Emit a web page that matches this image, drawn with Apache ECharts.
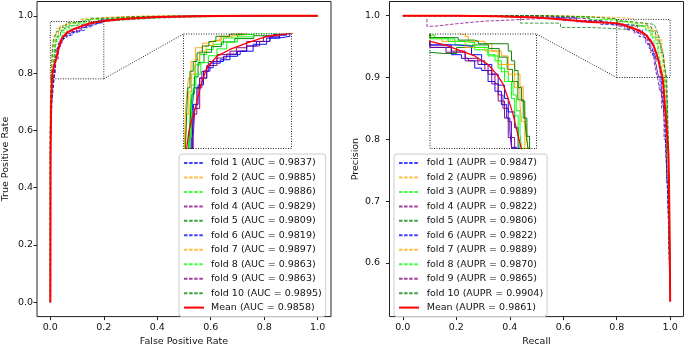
<!DOCTYPE html>
<html>
<head>
<meta charset="utf-8">
<script src="https://cdn.jsdelivr.net/npm/echarts@6/dist/echarts.min.js"></script>
<style>
  html, body { margin: 0; padding: 0; background: #fff; }
  #chart { width: 685px; height: 352px; }
</style>
</head>
<body>
<div id="chart"></div>
<script>
const FONT = 'DejaVu Sans';

const foldNames = ['fold 1', 'fold 2', 'fold 3', 'fold 4', 'fold 5', 'fold 6', 'fold 7', 'fold 8', 'fold 9', 'fold 10'];
const aucValues = ['0.9837', '0.9885', '0.9886', '0.9829', '0.9809', '0.9819', '0.9897', '0.9863', '0.9863', '0.9895'];
const meanAuc = '0.9858';
const auprValues = ['0.9847', '0.9896', '0.9889', '0.9822', '0.9806', '0.9822', '0.9889', '0.9870', '0.9865', '0.9904'];
const meanAupr = '0.9861';
const foldColors = ['#0000ff', '#ffa500', '#00ff00', '#800080', '#008000', '#0000ff', '#ffa500', '#00ff00', '#800080', '#008000'];

const rateTicks = [0, 0.2, 0.4, 0.6, 0.8, 1.0];
const precisionTicks = [0.6, 0.7, 0.8, 0.9, 1.0];

// zoomed regions shown in the insets
const rocZoomX = [0, 0.2];
const rocZoomY = [0.78, 0.98];
const prZoomX = [0.8, 1.0];
const prZoomY = [0.9, 0.994];

// ROC curves [fpr, tpr]
const roc1 = [[0,0],[0,0.3],[0.005,0.6],[0.01,0.72],[0.014,0.78],[0.016,0.8],[0.019,0.845],[0.03,0.886],[0.043,0.903],[0.055,0.921],[0.074,0.932],[0.1,0.941],[0.117,0.95],[0.135,0.959],[0.16,0.967],[0.178,0.973],[0.197,0.976],[0.24,0.985],[0.3,0.991],[0.4,0.997],[0.55,1],[1,1]];
const roc2 = [[0,0],[0,0.5],[0.002,0.7],[0.004,0.8],[0.006,0.85],[0.009,0.874],[0.014,0.903],[0.022,0.932],[0.035,0.956],[0.045,0.964],[0.055,0.967],[0.068,0.97],[0.085,0.976],[0.115,0.979],[0.16,0.988],[0.2,0.993],[0.3,0.998],[0.5,1],[1,1]];
const roc3 = [[0,0],[0,0.35],[0.004,0.65],[0.008,0.75],[0.012,0.78],[0.015,0.845],[0.021,0.891],[0.03,0.926],[0.043,0.944],[0.055,0.953],[0.074,0.962],[0.1,0.973],[0.13,0.979],[0.18,0.987],[0.25,0.993],[0.35,0.997],[0.5,0.999],[0.7,1],[1,1]];
const roc4 = [[0,0],[0,0.3],[0.006,0.6],[0.012,0.72],[0.016,0.77],[0.0185,0.799],[0.0246,0.84],[0.034,0.886],[0.046,0.915],[0.062,0.932],[0.086,0.944],[0.117,0.95],[0.141,0.959],[0.16,0.967],[0.178,0.976],[0.22,0.984],[0.3,0.99],[0.4,0.996],[0.55,0.999],[0.8,1],[1,1]];
const roc5 = [[0,0],[0,0.3],[0.005,0.55],[0.01,0.7],[0.013,0.79],[0.016,0.84],[0.02,0.875],[0.027,0.905],[0.038,0.93],[0.052,0.948],[0.07,0.958],[0.095,0.966],[0.13,0.972],[0.17,0.977],[0.22,0.982],[0.3,0.987],[0.4,0.992],[0.55,0.996],[0.75,0.999],[1,1]];
const roc6 = [[0,0],[0,0.25],[0.006,0.55],[0.012,0.7],[0.016,0.76],[0.0185,0.793],[0.027,0.857],[0.037,0.891],[0.049,0.915],[0.068,0.929],[0.086,0.935],[0.105,0.944],[0.129,0.95],[0.154,0.962],[0.178,0.973],[0.191,0.978],[0.23,0.985],[0.3,0.99],[0.4,0.995],[0.55,0.999],[0.8,1],[1,1]];
const roc7 = [[0,0],[0,0.4],[0.003,0.66],[0.006,0.79],[0.01,0.84],[0.015,0.88],[0.022,0.91],[0.03,0.935],[0.042,0.95],[0.055,0.96],[0.07,0.968],[0.09,0.975],[0.12,0.981],[0.16,0.99],[0.22,0.995],[0.35,0.999],[0.6,1],[1,1]];
const roc8 = [[0,0],[0,0.3],[0.005,0.62],[0.01,0.74],[0.015,0.8],[0.018,0.85],[0.023,0.885],[0.032,0.91],[0.046,0.93],[0.062,0.942],[0.08,0.954],[0.1,0.966],[0.13,0.975],[0.17,0.981],[0.23,0.989],[0.32,0.995],[0.45,0.998],[0.65,1],[1,1]];
const roc9 = [[0,0],[0,0.35],[0.006,0.62],[0.012,0.74],[0.018,0.78],[0.021,0.8],[0.03,0.85],[0.043,0.903],[0.062,0.925],[0.08,0.938],[0.098,0.945],[0.117,0.956],[0.148,0.967],[0.166,0.975],[0.19,0.979],[0.24,0.988],[0.32,0.994],[0.45,0.998],[0.6,1],[1,1]];
const roc10 = [[0,0],[0,0.45],[0.002,0.68],[0.004,0.76],[0.006,0.79],[0.008,0.845],[0.012,0.886],[0.018,0.915],[0.025,0.932],[0.035,0.947],[0.047,0.959],[0.06,0.967],[0.085,0.976],[0.11,0.98],[0.15,0.985],[0.22,0.992],[0.3,0.997],[0.45,0.999],[0.75,1],[1,1]];
const rocMean = [[0,0],[0.001,0.5],[0.003,0.7],[0.006,0.78],[0.01,0.81],[0.015,0.83],[0.0216,0.85],[0.031,0.886],[0.043,0.921],[0.0616,0.941],[0.086,0.953],[0.117,0.964],[0.154,0.976],[0.19,0.98],[0.25,0.987],[0.3,0.991],[0.4,0.996],[0.5,0.998],[0.6,0.999],[0.8,1],[1,1]];

// PR curves [recall, precision]
const pr1 = [[0,1],[0.2,1],[0.45,0.997],[0.6,0.992],[0.74,0.986],[0.8,0.983],[0.828,0.983],[0.84,0.977],[0.859,0.974],[0.872,0.972],[0.884,0.966],[0.897,0.964],[0.909,0.955],[0.922,0.947],[0.934,0.936],[0.944,0.925],[0.95,0.914],[0.953,0.901],[0.962,0.885],[0.969,0.87],[0.975,0.85],[0.982,0.8],[0.988,0.74],[0.995,0.65],[1,0.55]];
const pr2 = [[0,1],[0.4,1],[0.6,0.998],[0.75,0.996],[0.856,0.994],[0.866,0.992],[0.872,0.988],[0.903,0.986],[0.916,0.98],[0.934,0.976],[0.947,0.969],[0.959,0.961],[0.969,0.951],[0.975,0.939],[0.978,0.928],[0.981,0.917],[0.984,0.9],[0.988,0.86],[0.992,0.8],[0.996,0.7],[1,0.56]];
const pr3 = [[0,1],[0.3,1],[0.5,0.998],[0.7,0.994],[0.8,0.99],[0.84,0.99],[0.847,0.985],[0.872,0.984],[0.884,0.981],[0.909,0.977],[0.922,0.972],[0.934,0.963],[0.947,0.955],[0.956,0.944],[0.962,0.931],[0.969,0.912],[0.972,0.9],[0.98,0.86],[0.988,0.78],[0.995,0.67],[1,0.55]];
const pr4 = [[0.09,0.995],[0.09,0.983],[0.12,0.985],[0.16,0.987],[0.2,0.989],[0.25,0.991],[0.3,0.993],[0.4,0.995],[0.5,0.997],[0.6,0.995],[0.7,0.99],[0.78,0.985],[0.84,0.98],[0.866,0.974],[0.89,0.969],[0.909,0.961],[0.922,0.953],[0.928,0.944],[0.937,0.933],[0.947,0.922],[0.953,0.909],[0.959,0.9],[0.967,0.875],[0.975,0.84],[0.983,0.79],[0.99,0.72],[0.996,0.64],[1,0.55]];
const pr5 = [[0,1],[0.29,1],[0.3,0.997],[0.43,0.997],[0.44,0.988],[0.58,0.987],[0.59,0.981],[0.7,0.979],[0.8,0.978],[0.825,0.978],[0.85,0.983],[0.88,0.985],[0.91,0.982],[0.93,0.975],[0.945,0.965],[0.955,0.955],[0.965,0.94],[0.975,0.925],[0.982,0.91],[0.987,0.9],[0.99,0.86],[0.993,0.8],[0.996,0.7],[1,0.57]];
const pr6 = [[0,1],[0.25,1],[0.5,0.996],[0.65,0.99],[0.75,0.987],[0.8,0.985],[0.853,0.984],[0.878,0.977],[0.897,0.969],[0.916,0.961],[0.928,0.952],[0.94,0.941],[0.947,0.93],[0.959,0.917],[0.9655,0.9],[0.97,0.88],[0.976,0.85],[0.984,0.79],[0.99,0.73],[0.996,0.64],[1,0.55]];
const pr7 = [[0,1],[0.35,1],[0.55,0.998],[0.7,0.995],[0.8,0.991],[0.822,0.988],[0.866,0.983],[0.903,0.98],[0.928,0.969],[0.947,0.961],[0.959,0.95],[0.969,0.936],[0.972,0.922],[0.978,0.9],[0.984,0.86],[0.99,0.78],[0.995,0.68],[1,0.55]];
const pr8 = [[0,1],[0.25,1],[0.5,0.997],[0.7,0.993],[0.809,0.991],[0.834,0.988],[0.859,0.987],[0.884,0.983],[0.909,0.976],[0.928,0.966],[0.94,0.955],[0.953,0.941],[0.959,0.927],[0.9655,0.908],[0.968,0.9],[0.978,0.85],[0.986,0.77],[0.994,0.66],[1,0.55]];
const pr9 = [[0,1],[0.3,1],[0.5,0.997],[0.65,0.992],[0.75,0.987],[0.8,0.983],[0.83,0.979],[0.866,0.972],[0.903,0.964],[0.916,0.953],[0.928,0.939],[0.94,0.925],[0.947,0.909],[0.953,0.9],[0.96,0.88],[0.968,0.85],[0.977,0.8],[0.986,0.73],[0.994,0.64],[1,0.55]];
const pr10 = [[0,1],[0.3,1],[0.55,0.998],[0.7,0.995],[0.8,0.991],[0.847,0.991],[0.853,0.989],[0.884,0.988],[0.891,0.986],[0.94,0.986],[0.947,0.98],[0.953,0.972],[0.959,0.964],[0.9655,0.95],[0.972,0.939],[0.978,0.925],[0.981,0.909],[0.984,0.9],[0.988,0.86],[0.992,0.8],[0.996,0.72],[1,0.57]];
const prMean = [[0,1],[0.2,1],[0.35,0.999],[0.5,0.997],[0.6,0.994],[0.7,0.99],[0.8,0.988],[0.828,0.985],[0.853,0.981],[0.884,0.976],[0.909,0.969],[0.925,0.961],[0.937,0.953],[0.946,0.942],[0.956,0.928],[0.962,0.917],[0.968,0.906],[0.972,0.899],[0.975,0.885],[0.981,0.851],[0.9877,0.814],[0.9937,0.777],[0.996,0.725],[0.9975,0.672],[0.999,0.619],[1,0.537]];

const rocFolds = [roc1, roc2, roc3, roc4, roc5, roc6, roc7, roc8, roc9, roc10];
const prFolds = [pr1, pr2, pr3, pr4, pr5, pr6, pr7, pr8, pr9, pr10];

const rocNames = foldNames.map((f, i) => `${f} (AUC = ${aucValues[i]})`).concat(`Mean (AUC = ${meanAuc})`);
const prNames = foldNames.map((f, i) => `${f} (AUPR = ${auprValues[i]})`).concat(`Mean (AUPR = ${meanAupr})`);

const txt = { fontFamily: FONT, fontSize: 9.5, color: '#111' };

function axisX(gridIndex, name) {
  return {
    type: 'value', gridIndex, min: -0.05, max: 1.05,
    name, nameLocation: 'middle', nameGap: 18.5, nameTextStyle: txt,
    axisLine: { show: false, onZero: false }, splitLine: { show: false },
    axisTick: { show: true, length: 3.5, lineStyle: { color: '#222', width: 1 }, customValues: rateTicks },
    axisLabel: Object.assign({ margin: 5.5, customValues: rateTicks, formatter: v => v.toFixed(1) }, txt)
  };
}
function axisY(gridIndex, name, min, max, ticks, margin) {
  return {
    type: 'value', gridIndex, min, max,
    name, nameLocation: 'middle', nameGap: 26, nameTextStyle: txt,
    axisLine: { show: false, onZero: false }, splitLine: { show: false },
    axisTick: { show: true, length: 3.5, lineStyle: { color: '#222', width: 1 }, customValues: ticks },
    axisLabel: Object.assign({ margin, customValues: ticks, formatter: v => v.toFixed(1) }, txt)
  };
}
function hiddenAxis(gridIndex, range) {
  return { type: 'value', gridIndex, min: range[0], max: range[1], show: false, axisLine: { onZero: false } };
}

function foldSeries(data, i, name, axis, inset, step) {
  return {
    type: 'line', name, data, xAxisIndex: axis, yAxisIndex: axis,
    showSymbol: false, symbol: 'none', step, clip: true, silent: true,
    lineStyle: inset
      ? { color: foldColors[i], width: 1, type: 'solid', opacity: 0.95 }
      : { color: foldColors[i], width: 1, type: [3.5, 1.6], opacity: 0.75 },
    itemStyle: { color: foldColors[i] }
  };
}
function meanSeries(data, name, axis, inset) {
  return {
    type: 'line', name, data, xAxisIndex: axis, yAxisIndex: axis,
    showSymbol: false, symbol: 'none', clip: true, silent: true,
    lineStyle: { color: '#ff0000', width: inset ? 1.3 : 2 },
    itemStyle: { color: '#ff0000' }
  };
}
function rectSeries(xr, yr, axis) {
  return {
    type: 'line', name: 'zoom box ' + axis, xAxisIndex: axis, yAxisIndex: axis,
    data: [[xr[0], yr[0]], [xr[1], yr[0]], [xr[1], yr[1]], [xr[0], yr[1]], [xr[0], yr[0]]],
    showSymbol: false, symbol: 'none', silent: true,
    lineStyle: { color: '#222', width: 1, type: [1, 1.5] }
  };
}

const series = [];
rocFolds.forEach((d, i) => series.push(foldSeries(d, i, rocNames[i], 0, false, 'start')));
series.push(meanSeries(rocMean, rocNames[10], 0, false));
series.push(rectSeries(rocZoomX, rocZoomY, 0));
prFolds.forEach((d, i) => series.push(foldSeries(d, i, prNames[i], 1, false, 'end')));
series.push(meanSeries(prMean, prNames[10], 1, false));
series.push(rectSeries(prZoomX, prZoomY, 1));
rocFolds.forEach((d, i) => series.push(foldSeries(d, i, 'inset ' + rocNames[i], 2, true, 'start')));
series.push(meanSeries(rocMean, 'inset ' + rocNames[10], 2, true));
prFolds.forEach((d, i) => series.push(foldSeries(d, i, 'inset ' + prNames[i], 3, true, 'end')));
series.push(meanSeries(prMean, 'inset ' + prNames[10], 3, true));

function legendAt(left, names, textPad) {
  return {
    left, top: 154, orient: 'vertical', data: names, selectedMode: false,
    itemWidth: 20, itemHeight: 10, itemGap: 4.46, padding: [4, 4, 4, 4],
    itemStyle: { opacity: 0 },
    borderColor: '#cccccc', borderWidth: 1, borderRadius: 3,
    backgroundColor: 'rgba(255,255,255,0.8)',
    textStyle: Object.assign({ padding: [0, 0, 0, textPad] }, txt)
  };
}

const option = {
  animation: false,
  backgroundColor: '#fff',
  grid: [
    { left: 37, top: 1.5, width: 294, height: 321, show: true, borderColor: '#222', borderWidth: 1, backgroundColor: 'transparent' },
    { left: 389.5, top: 1.5, width: 294, height: 321, show: true, borderColor: '#222', borderWidth: 1, backgroundColor: 'transparent' },
    { left: 183.5, top: 34, width: 108, height: 114.5 },
    { left: 430, top: 34, width: 106.5, height: 114.5 }
  ],
  xAxis: [
    axisX(0, 'False Positive Rate'),
    axisX(1, 'Recall'),
    hiddenAxis(2, rocZoomX),
    hiddenAxis(3, prZoomX)
  ],
  yAxis: [
    axisY(0, 'True Positive Rate', -0.05, 1.05, rateTicks, 4),
    axisY(1, 'Precision', 0.513, 1.023, precisionTicks, 9.5),
    hiddenAxis(2, rocZoomY),
    hiddenAxis(3, prZoomY)
  ],
  legend: [legendAt(179, rocNames, 2), legendAt(394, prNames, 2.7)],
  series
};

const chart = echarts.init(document.getElementById('chart'), null, { renderer: 'canvas' });
chart.setOption(option);

// inset frames and connector lines
const px = (g, pt) => chart.convertToPixel({ gridIndex: g }, pt);
const dotted = { fill: null, stroke: '#222', lineWidth: 1, lineDash: [1, 1.5] };
function frame(g, xr, yr) {
  const a = px(g, [xr[0], yr[1]]), b = px(g, [xr[1], yr[0]]);
  return { type: 'rect', silent: true, z: 50, shape: { x: a[0], y: a[1], width: b[0] - a[0], height: b[1] - a[1] }, style: dotted };
}
function link(p1, p2) {
  return { type: 'line', silent: true, z: 50, shape: { x1: p1[0], y1: p1[1], x2: p2[0], y2: p2[1] }, style: dotted };
}
chart.setOption({
  graphic: [
    frame(2, rocZoomX, rocZoomY),
    frame(3, prZoomX, prZoomY),
    link(px(0, [rocZoomX[1], rocZoomY[0]]), px(2, [rocZoomX[0], rocZoomY[1]])),
    link(px(1, [prZoomX[0], prZoomY[0]]), px(3, [prZoomX[1], prZoomY[1]]))
  ]
});
</script>
</body>
</html>
